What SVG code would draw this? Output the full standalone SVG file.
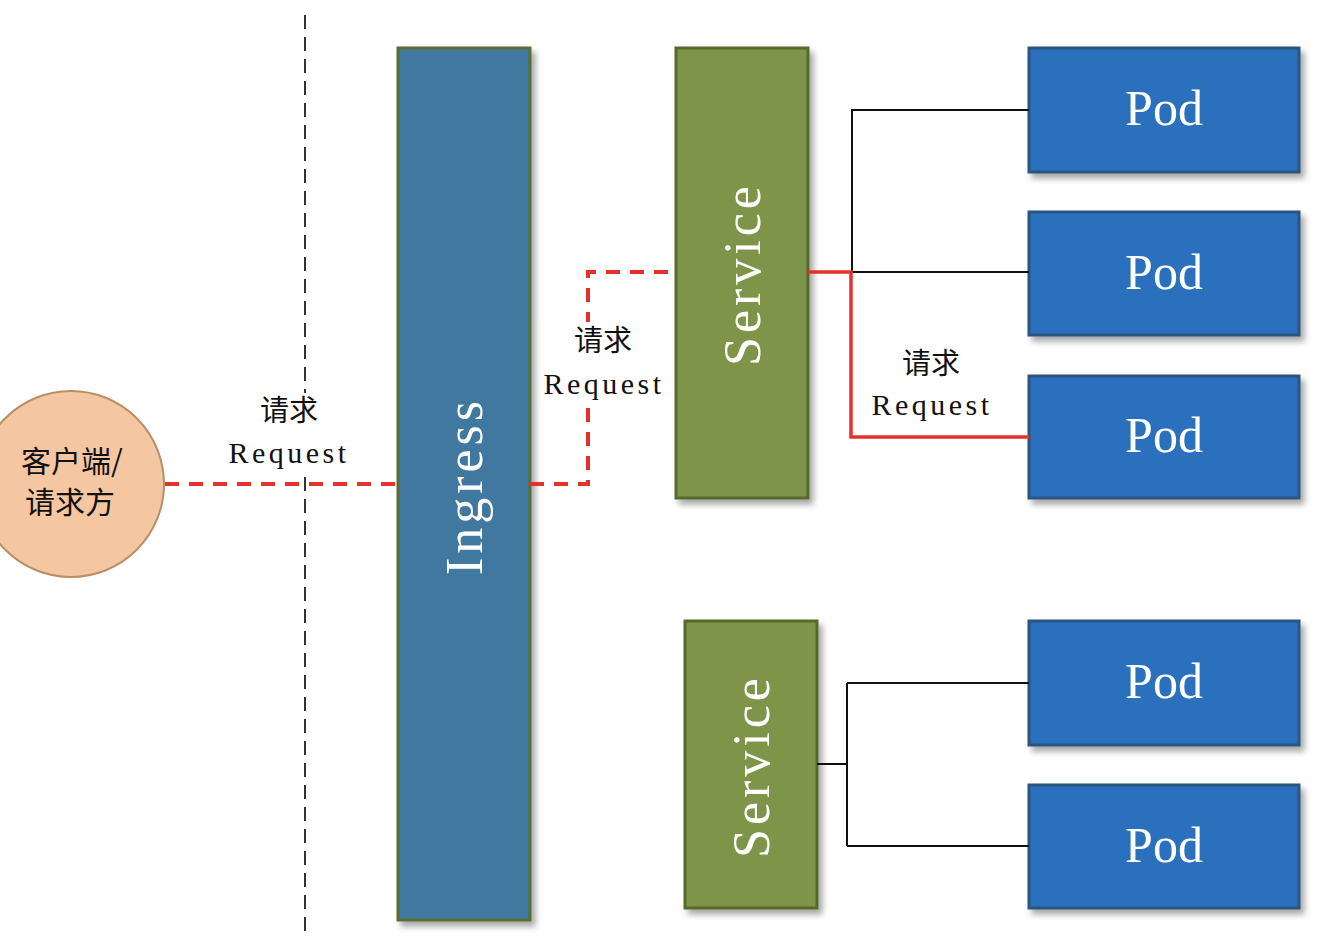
<svg xmlns="http://www.w3.org/2000/svg" width="1338" height="938" viewBox="0 0 1338 938">
<defs>
<filter id="sh" x="-10%" y="-10%" width="130%" height="130%">
<feGaussianBlur in="SourceAlpha" stdDeviation="3"/>
<feOffset dx="4" dy="5"/>
<feComponentTransfer><feFuncA type="linear" slope="0.35"/></feComponentTransfer>
<feMerge><feMergeNode/><feMergeNode in="SourceGraphic"/></feMerge>
</filter>
</defs>
<style>
.ing{fill:#41789F;stroke:#5A6E33;stroke-width:3}
.svc{fill:#7E9449;stroke:#566A2E;stroke-width:3}
.pod{fill:#2A70BC;stroke:#2A5580;stroke-width:3}
.vt{font-family:"Liberation Serif",serif;font-size:52px;letter-spacing:4px;fill:#fff;text-anchor:middle;dominant-baseline:central}
.pt{font-family:"Liberation Serif",serif;font-size:50px;fill:#fff;text-anchor:middle;dominant-baseline:central}
.lbl{font-family:"Liberation Serif",serif;font-size:30px;letter-spacing:3.5px;fill:#111;text-anchor:middle}
.cn{font-family:"Noto Sans CJK SC",sans-serif;font-size:29px;fill:#111;text-anchor:middle}
.cc{font-family:"Noto Sans CJK SC",sans-serif;font-size:30px;fill:#111;text-anchor:middle}
.rd{fill:none;stroke:#E8302B;stroke-width:4;stroke-dasharray:14 10}
.rs{fill:none;stroke:#E8302B;stroke-width:3.5}
.bk{fill:none;stroke:#111;stroke-width:2}
.bg{fill:#fff}
</style>
<line x1="305" y1="15" x2="305" y2="938" stroke="#333" stroke-width="2" stroke-dasharray="14 8"/>
<g id="client">
<circle cx="71" cy="484" r="93" fill="#F4C7A2" stroke="#B98E63" stroke-width="2"/>
<text class="cc" x="72" y="472">客户端/</text>
<text class="cc" x="70" y="513">请求方</text>
</g>
<g id="ingress" filter="url(#sh)">
<rect class="ing" x="398" y="48" width="132" height="872"/>
<text class="vt" transform="translate(464,486) rotate(-90)">Ingress</text>
</g>
<g id="service1" filter="url(#sh)">
<rect class="svc" x="676" y="48" width="132" height="450"/>
<text class="vt" transform="translate(742,274) rotate(-90)">Service</text>
</g>
<g id="service2" filter="url(#sh)">
<rect class="svc" x="685" y="621" width="132" height="287"/>
<text class="vt" transform="translate(751,766) rotate(-90)">Service</text>
</g>
<g id="pod1" filter="url(#sh)">
<rect class="pod" x="1029" y="48" width="270" height="124"/>
<text class="pt" x="1164" y="108">Pod</text>
</g>
<g id="pod2" filter="url(#sh)">
<rect class="pod" x="1029" y="212" width="270" height="123"/>
<text class="pt" x="1164" y="272">Pod</text>
</g>
<g id="pod3" filter="url(#sh)">
<rect class="pod" x="1029" y="376" width="270" height="122"/>
<text class="pt" x="1164" y="435">Pod</text>
</g>
<g id="pod4" filter="url(#sh)">
<rect class="pod" x="1029" y="621" width="270" height="124"/>
<text class="pt" x="1164" y="681">Pod</text>
</g>
<g id="pod5" filter="url(#sh)">
<rect class="pod" x="1029" y="785" width="270" height="123"/>
<text class="pt" x="1164" y="845">Pod</text>
</g>
<g id="connectors">
<path class="rd" d="M165,484 H398"/>
<path class="rd" d="M530,484 H588 V272 H676"/>
<path class="bk" d="M852,272 V110 H1029"/>
<path class="bk" d="M852,272 H1029"/>
<path class="rs" d="M808,272 H851 V437 H1029"/>
<path class="bk" d="M817,764 H847"/>
<path class="bk" d="M847,683 V846"/>
<path class="bk" d="M847,683 H1029"/>
<path class="bk" d="M847,846 H1029"/>
</g>
<g id="labels">
<rect class="bg" x="226" y="393" width="124" height="78"/>
<text class="cn" x="289" y="421">请求</text>
<text class="lbl" x="289" y="463">Request</text>
<rect class="bg" x="541" y="322" width="124" height="80"/>
<text class="cn" x="603" y="351">请求</text>
<text class="lbl" x="604" y="394">Request</text>
<text class="cn" x="931" y="374">请求</text>
<text class="lbl" x="932" y="415">Request</text>
</g>
</svg>
